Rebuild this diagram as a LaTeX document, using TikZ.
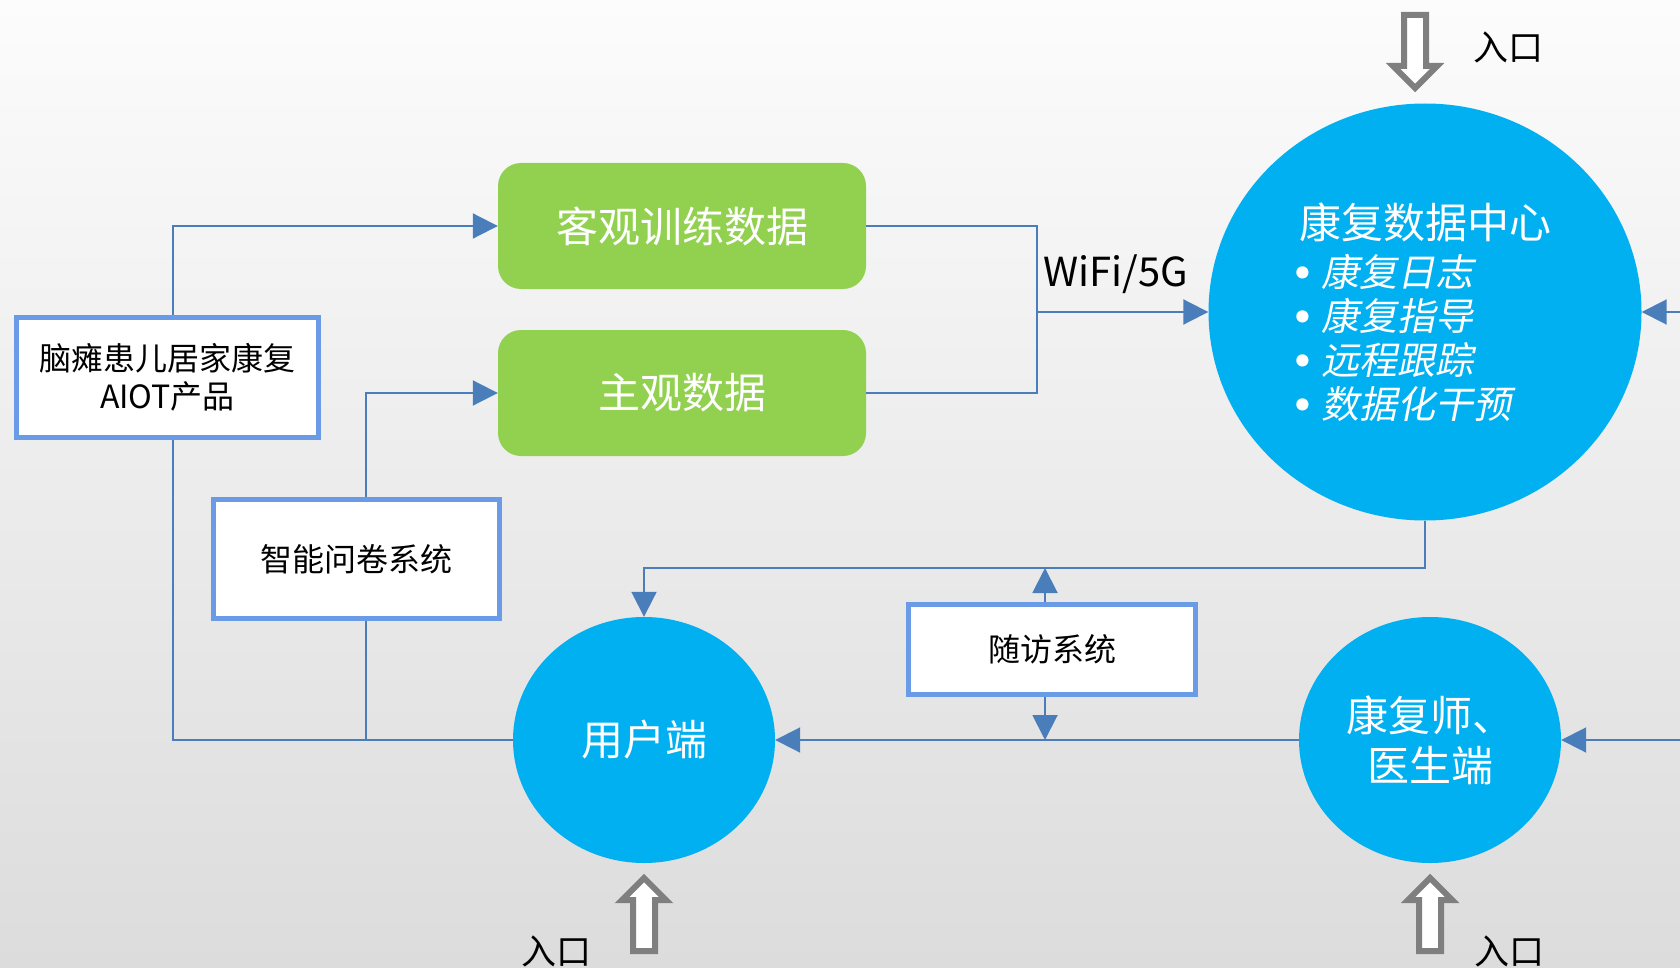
\documentclass[tikz,border=0pt]{standalone}
\usepackage{fontspec}
\setmainfont{Noto Sans CJK SC}
\newfontfamily\cjkslant[FakeSlant=0.2]{Noto Sans CJK SC}
\newfontfamily\bulfont{DejaVu Sans}
\usetikzlibrary{arrows.meta,shapes.geometric,calc}
\definecolor{bgtop}{HTML}{FCFCFC}
\definecolor{bgbot}{HTML}{DCDCDC}
\definecolor{leaf}{HTML}{92D050}
\definecolor{sky}{HTML}{00B0F0}
\definecolor{frame}{HTML}{6A9BE6}
\definecolor{wire}{HTML}{4A7EBB}
\definecolor{entrygray}{HTML}{7F7F7F}
\newcommand\bulitem[1]{\hbox to 22pt{\kern-9pt\bulfont\fontsize{42}{42}\selectfont\raisebox{-2pt}{•}\hss}{\cjkslant #1}}
\begin{document}
\begin{tikzpicture}[x=1pt,y=-1pt,
  conn/.style={draw=wire, line width=2pt},
  arr/.style={conn, -{Triangle[length=25pt,width=25pt]}},
  greenbox/.style={rectangle, rounded corners=23pt, fill=leaf, minimum width=368pt, minimum height=126pt, text=white, font=\fontsize{42}{50}\selectfont, inner sep=0pt},
  whitebox/.style={rectangle, draw=frame, line width=5pt, fill=white, inner sep=0pt, font=\fontsize{32}{38}\selectfont, align=center},
  bluecirc/.style={ellipse, fill=sky, inner sep=0pt, text=white, font=\fontsize{42}{50}\selectfont, align=center},
  entry/.style={draw=entrygray, fill=white, line width=6pt, line join=miter},
  entrylabel/.style={font=\fontsize{35}{40}\selectfont, inner sep=0pt}
]
\useasboundingbox (0,0) rectangle (1680,968);
\shade[top color=bgtop, bottom color=bgbot] (0,0) rectangle (1680,968);

% nodes
\node[greenbox] (g1) at (682,226) {客观训练数据};
\node[greenbox] (g2) at (682,393) {主观数据};
\node[whitebox, minimum width=302pt, minimum height=120pt] (nao) at (167.5,377.5) {脑瘫患儿居家康复\\AIOT产品};
\node[whitebox, minimum width=286pt, minimum height=119pt] (q) at (356.5,559) {智能问卷系统};
\node[whitebox, minimum width=287pt, minimum height=90pt] (f) at (1052,649.5) {随访系统};
\node[bluecirc, minimum width=433pt, minimum height=417pt, font=\fontsize{38}{44}\selectfont, align=left] (dc) at (1425,312)
  {{\fontsize{42}{50}\selectfont 康复数据中心}\\[4pt]
   \bulitem{康复日志}\\ \bulitem{康复指导}\\ \bulitem{远程跟踪}\\ \bulitem{数据化干预}};
\node[bluecirc, minimum width=262pt, minimum height=246pt] (u) at (644,740) {用户端};
\node[bluecirc, minimum width=262pt, minimum height=246pt] (d) at (1430,740) {康复师、\\医生端};
\node[font=\fontsize{40}{48}\selectfont, inner sep=0pt] (wifi) at (1116,274) {WiFi/5G};

% helper coordinates
\coordinate (j) at (1037,312);
\coordinate (top) at (1045,568);
\coordinate (bot) at (1045,740);
\coordinate (re1) at (1680,312);
\coordinate (re2) at (1680,740);

% connectors
\draw[arr] ([xshift=5.5pt]nao.north) |- (g1.west);
\draw[conn] ([xshift=5.5pt]nao.south) |- (u.west);
\draw[arr] ([xshift=9.5pt]q.north) |- (g2.west);
\draw[conn] ([xshift=9.5pt]q.south) |- (u.west);
\draw[conn] (g1.east) -| (j) |- (g2.east);
\draw[arr] (j) -- (dc.west);
\draw[arr] (dc.south) |- (top) -| (u.north);
\draw[arr] (top |- f.north) -- (top);
\draw[arr] (bot |- f.south) -- (bot);
\draw[arr] (d.west) -- (u.east);
\draw[arr] (re1) -- (dc.east);
\draw[arr] (re2) -- (d.east);

% entry arrows
\draw[entry] (1404,15) -- (1426,15) -- (1426,66) -- (1437,66) -- (1415,88) -- (1393,66) -- (1404,66) -- cycle;
\draw[entry] (633,951) -- (655,951) -- (655,900) -- (666,900) -- (644,878) -- (622,900) -- (633,900) -- cycle;
\draw[entry] (1419,951) -- (1441,951) -- (1441,900) -- (1452,900) -- (1430,878) -- (1408,900) -- (1419,900) -- cycle;
\node[entrylabel] (e1) at (1508,47) {入口};
\node[entrylabel] (e2) at (556,951) {入口};
\node[entrylabel] (e3) at (1509,951) {入口};
\end{tikzpicture}
\end{document}
